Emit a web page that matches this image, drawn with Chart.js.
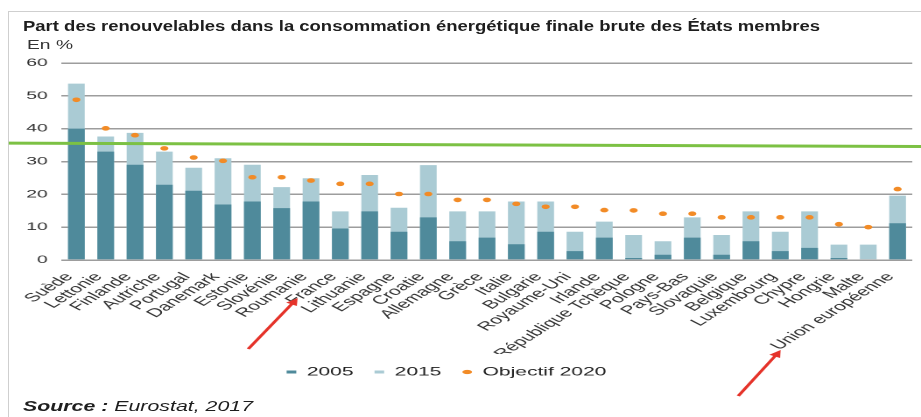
<!DOCTYPE html>
<html>
<head>
<meta charset="utf-8">
<script src="https://cdn.jsdelivr.net/npm/chart.js@4/dist/chart.umd.min.js"></script>
<style>
  html, body { margin: 0; padding: 0; background: #fff; width: 921px; height: 417px; overflow: hidden;
    font-family: 'Liberation Sans', Arial, sans-serif; }
  #frame { position: absolute; left: 8px; top: 11px; width: 940px; height: 430px; border: 1px solid #cfcfcf; box-sizing: border-box; }
  #chart { position: absolute; left: 0; top: 0; }
  .txt { position: absolute; white-space: nowrap; transform-origin: 0 50%; color: #1e1e1e; line-height: 1; }
  #title { left: 23px; top: 19px; font-size: 14px; font-weight: bold; }
  #unit { left: 27px; top: 38px; font-size: 13px; color: #333; }
  #source { left: 23px; top: 399px; font-size: 14px; font-style: italic; }
</style>
</head>
<body>
<div id="frame"></div>
<!-- the picture is a horizontally stretched export, so the canvas is drawn narrow and widened by css -->
<canvas id="chart" width="526" height="417" style="width:921px;height:417px"></canvas>
<div class="txt" id="title" data-w="797">Part des renouvelables dans la consommation énergétique finale brute des États membres</div>
<div class="txt" id="unit" data-w="46">En %</div>
<div class="txt" id="source" data-w="230"><b>Source :</b> Eurostat, 2017</div>
<script>
const countries = [
  "Suède", "Lettonie", "Finlande", "Autriche", "Portugal", "Danemark", "Estonie", "Slovénie",
  "Roumanie", "France", "Lithuanie", "Espagne", "Croatie", "Allemagne", "Grèce", "Italie",
  "Bulgarie", "Royaume-Uni", "Irlande", "République Tchèque", "Pologne", "Pays-Bas", "Slovaquie",
  "Belgique", "Luxembourg", "Chypre", "Hongrie", "Malte", "Union européenne"
];
const share2005 = [40, 33, 29, 22.9, 21.1, 16.9, 17.8, 15.8, 17.8, 9.6, 14.8, 8.6, 13, 5.7, 6.8, 4.8,
  8.6, 2.7, 6.8, 0.6, 1.6, 6.8, 1.6, 5.7, 2.7, 3.7, 0.6, 0, 11.2];
const share2015 = [53.7, 37.6, 38.7, 33, 28.1, 31, 29, 22.2, 24.9, 14.8, 25.9, 15.9, 28.9, 14.8, 14.8, 17.8,
  17.8, 8.6, 11.7, 7.6, 5.7, 13, 7.6, 14.8, 8.6, 14.8, 4.7, 4.7, 19.6];
const target2020 = [48.8, 40.1, 38, 34, 31.2, 30.2, 25.2, 25.2, 24.2, 23.2, 23.2, 20.1, 20.1, 18.3, 18.3, 17.1,
  16.2, 16.2, 15.2, 15.1, 14.1, 14.1, 13, 13, 13, 13, 10.9, 10, 21.6];
const seriesNames = ["2005", "2015", "Objectif 2020"];
const yMin = 0, yMax = 60, yStep = 10;
const greenLevel = [35.6, 34.55]; // hand drawn line, value at left and right edge
const arrowTargets = ["France", "Union européenne"];

const FONT = "'Liberation Sans', Arial, sans-serif";

// stretch the html texts to the width they have in the picture
document.querySelectorAll('.txt').forEach(el => {
  const w = el.getBoundingClientRect().width;
  el.style.transform = 'scaleX(' + (el.dataset.w / w) + ')';
});

function drawArrow(ctx, x0, y0, x1, y1) {
  const a = Math.atan2(y1 - y0, x1 - x0);
  ctx.beginPath();
  ctx.moveTo(x0, y0);
  ctx.lineTo(x1 - 5 * Math.cos(a), y1 - 5 * Math.sin(a));
  ctx.stroke();
  ctx.beginPath();
  ctx.moveTo(x1, y1);
  ctx.lineTo(x1 - 8 * Math.cos(a - 0.45), y1 - 8 * Math.sin(a - 0.45));
  ctx.lineTo(x1 - 8 * Math.cos(a + 0.45), y1 - 8 * Math.sin(a + 0.45));
  ctx.closePath();
  ctx.fill();
}

const annotations = {
  id: 'annotations',
  afterLayout(chart) {
    // legend sits a bit left of the centre in the picture
    chart.legend.left -= 9;
    chart.legend.right -= 9;
  },
  afterDatasetsDraw(chart) {
    const {ctx, scales: {x, y}} = chart;
    ctx.save();
    ctx.strokeStyle = '#7cc144';
    ctx.lineWidth = 3;
    ctx.beginPath();
    ctx.moveTo(5, y.getPixelForValue(greenLevel[0]));
    ctx.lineTo(chart.width, y.getPixelForValue(greenLevel[1]));
    ctx.stroke();

    ctx.strokeStyle = '#e5332a';
    ctx.fillStyle = '#e5332a';
    ctx.lineWidth = 2;
    const xb = x.bottom;
    const fx = x.getPixelForValue(countries.indexOf(arrowTargets[0]));
    drawArrow(ctx, fx - 52.6, xb - 5, fx - 24.4, xb - 56);
    const ux = x.getPixelForValue(countries.indexOf(arrowTargets[1]));
    drawArrow(ctx, ux - 91, xb + 42, ux - 66.8, xb - 4);
    ctx.restore();
  }
};

new Chart(document.getElementById('chart'), {
  data: {
    labels: countries,
    datasets: [
      { type: 'bar', label: seriesNames[0], data: share2005, backgroundColor: '#4f8a9b', order: 1 },
      { type: 'bar', label: seriesNames[1], data: share2015, backgroundColor: '#aacbd4', order: 2 },
      {
        type: 'line', label: seriesNames[2], data: target2020, showLine: false, order: 0,
        borderWidth: 0, backgroundColor: '#f28b26', borderColor: '#f28b26',
        pointRadius: 2.3, pointBorderWidth: 0, pointBackgroundColor: '#f28b26'
      }
    ]
  },
  options: {
    responsive: false,
    animation: false,
    devicePixelRatio: 2,
    layout: { padding: { top: 63, left: 7, right: 5, bottom: 29 } },
    datasets: { bar: { categoryPercentage: 1, barPercentage: 0.57 } },
    plugins: {
      tooltip: { enabled: false },
      legend: {
        position: 'bottom',
        labels: {
          usePointStyle: true,
          pointStyleWidth: 5.5,
          boxHeight: 3,
          padding: 12,
          color: '#222',
          font: { family: FONT, size: 12 },
          sort: (a, b) => a.datasetIndex - b.datasetIndex,
          generateLabels(chart) {
            const items = Chart.defaults.plugins.legend.labels.generateLabels(chart);
            items.forEach(it => {
              it.pointStyle = it.datasetIndex === 2 ? 'circle' : 'rect';
              it.lineWidth = 0;
            });
            return items;
          }
        }
      }
    },
    scales: {
      x: {
        stacked: true,
        grid: { display: false },
        border: { display: false },
        ticks: { autoSkip: false, minRotation: 48, maxRotation: 48, padding: 2, labelOffset: -4,
          color: '#333', font: { family: FONT, size: 12 } },
        afterFit(scale) {
          scale.height = 94;
          // rotated labels may hang past the plot edge, do not shrink the plot for them
          scale.paddingLeft = 0;
          scale.paddingRight = 0;
        }
      },
      y: {
        stacked: false,
        min: yMin,
        max: yMax,
        ticks: { stepSize: yStep, padding: 8, color: '#333', font: { family: FONT, size: 11 } },
        grid: { color: '#9d9d9d', lineWidth: 1.5, drawTicks: false },
        border: { display: false }
      }
    }
  },
  plugins: [annotations]
});
</script>
</body>
</html>
